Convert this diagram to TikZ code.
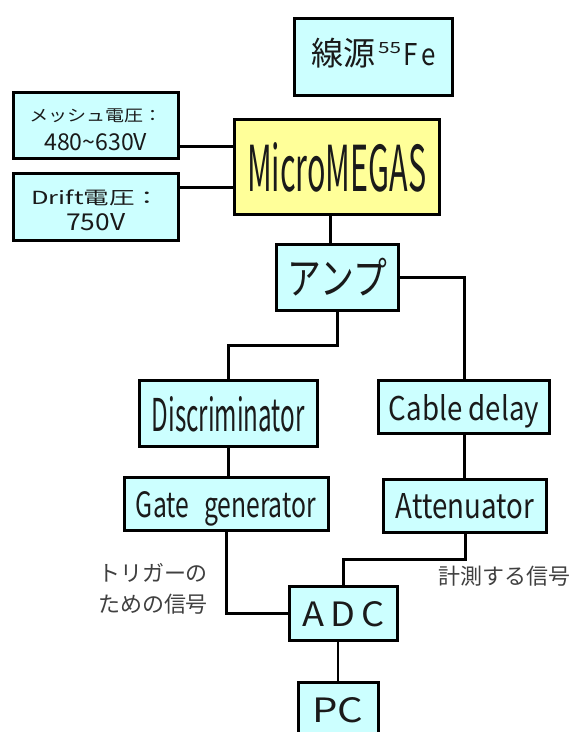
\documentclass[tikz,border=0pt]{standalone}
\usepackage{fontspec}
\setmainfont{Noto Sans CJK JP}
\usepackage{graphicx}
\usetikzlibrary{calc}
\definecolor{boxcyan}{HTML}{CCFFFF}
\definecolor{boxyellow}{HTML}{FFFF99}
\definecolor{labelgray}{HTML}{404040}
\definecolor{inktext}{HTML}{1A1A1A}
% Latin text: fit width and height above baseline, depth removed
\newcommand{\fitlat}[3]{\raisebox{0pt}[\height][0pt]{\resizebox{#1pt}{#2pt}{#3}}}
% Japanese text: fit width and total height
\newcommand{\fitjp}[3]{\resizebox*{#1pt}{#2pt}{#3}}
\begin{document}
\begin{tikzpicture}[x=1pt,y=-1pt,
  boxc/.style={draw=black, line width=3pt, fill=boxcyan, inner sep=0pt, text=inktext, align=center},
  boxy/.style={boxc, fill=boxyellow},
  wire/.style={draw=black, line width=3pt},
  thinwire/.style={draw=black, line width=2pt},
  lab/.style={text=labelgray, inner sep=0pt, align=center, font=\fontsize{22}{31}\selectfont}]
\fill[white] (0,0) rectangle (574,732);
\clip (0,0) rectangle (574,732);

% boxes
\node[boxc, minimum width=158pt, minimum height=77pt] (src) at (373.5,57)
  {\raisebox{4pt}[\height][\depth]{\fitjp{64}{30}{線源}\hspace{3pt}\raisebox{12pt}{\resizebox{23pt}{11pt}{55}}\hspace{2pt}\fitlat{33}{22}{F\,e}}};
\node[boxc, minimum width=165pt, minimum height=66pt, font=\fontsize{10}{29}\selectfont] (mesh) at (95.75,125.5)
  {\rule{0pt}{20pt}\fitjp{133}{14}{メッシュ電圧：}\hspace{7pt}\\\fitlat{103}{17}{480\textasciitilde630V}};
\node[boxc, minimum width=165pt, minimum height=67pt, font=\fontsize{10}{25.5}\selectfont] (drift) at (95.75,207)
  {\rule{0pt}{21pt}\fitjp{129}{16}{Drift電圧：}\hspace{14pt}\\\fitlat{59}{17}{750V}\hspace{4pt}};
\node[boxy, minimum width=204.5pt, minimum height=95.5pt] (micro) at (336.75,166.75)
  {\fitlat{179}{49}{MicroMEGAS}};
\node[boxc, minimum width=122pt, minimum height=65.5pt] (amp) at (337.5,277.25)
  {\fitjp{99}{38}{アンプ}};
\node[boxc, minimum width=177.5pt, minimum height=66pt] (disc) at (228.25,413.5)
  {\fitlat{153}{35}{Discriminator}};
\node[boxc, minimum width=171pt, minimum height=53pt] (cable) at (464,407)
  {\fitlat{150}{26}{Cable delay}};
\node[boxc, minimum width=204pt, minimum height=53pt] (gate) at (226,504)
  {\fitlat{180}{26}{Gate\hspace{0.6em}generator}};
\node[boxc, minimum width=163pt, minimum height=53pt] (atten) at (465,506)
  {\fitlat{138}{25}{Attenuator}};
\node[boxc, minimum width=107.5pt, minimum height=54pt] (adc) at (343.7,613.5)
  {\fitlat{82}{25}{A\,D\,C}};
\node[boxc, minimum width=80pt, minimum height=54pt] (pc) at (338,709.5)
  {\fitlat{51}{25}{PC}};

% connectors
\draw[wire] ([yshift=20.5pt]micro.west) -- ($(micro.west -| mesh.east)+(0,-20.5)$);
\draw[wire] ([yshift=-20.5pt]micro.west) -- ($(micro.west -| drift.east)+(0,20.5)$);
\draw[wire] ($(micro.south)+(-6,0)$) -- ($(amp.north -| micro.south)+(-6,0)$);
\draw[wire] (amp.east) -| (cable.north);
\draw[wire] (amp.south) |- ($(amp.south)!0.5!(disc.north)$) -| (disc.north);
\draw[wire] (disc.south) -- (disc.south |- gate.north);
\draw[wire] (cable.south) -- (cable.south |- atten.north);
\draw[wire] (atten.south) |- ($(atten.south)!0.5!(adc.north)$) -| (adc.north);
\draw[wire] (gate.south) |- (adc.west);
\draw[thinwire] (pc.north) -- (pc.north |- adc.south);

% signal labels
\node[lab] (trig) at (153,589) {トリガーの\\ための信号};
\node[lab] (meas) at (504,576) {計測する信号};
\end{tikzpicture}
\end{document}
